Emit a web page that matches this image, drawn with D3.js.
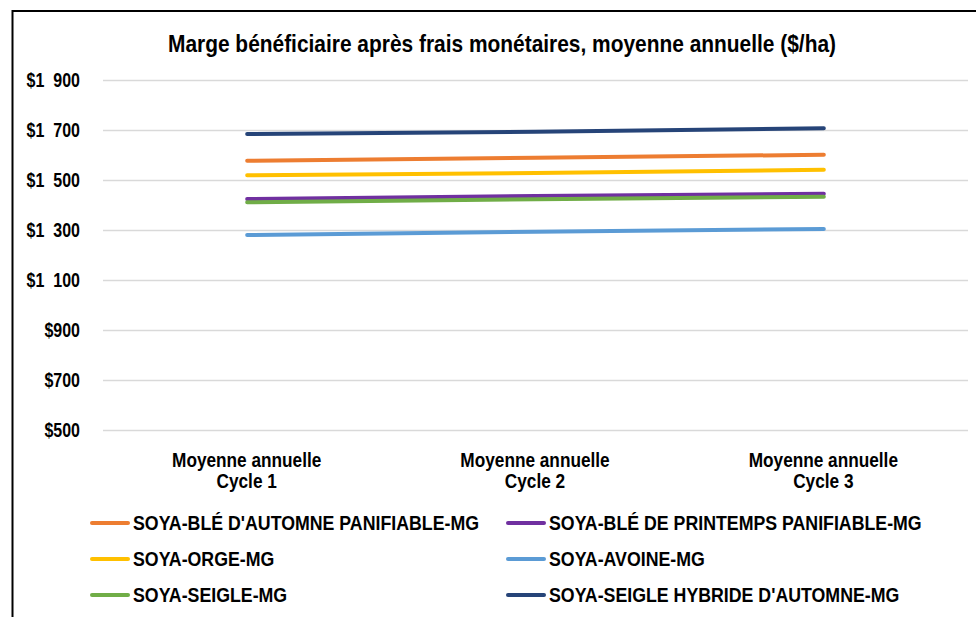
<!DOCTYPE html>
<html>
<head>
<meta charset="utf-8">
<script src="https://cdn.jsdelivr.net/npm/d3@7"></script>
<style>
  body { margin: 0; background: #fff; }
  text { font-family: "Liberation Sans", Arial, sans-serif; font-weight: bold; fill: #000; }
</style>
</head>
<body>
<div id="chart"></div>
<script>
// data
var cycles = ["Cycle 1", "Cycle 2", "Cycle 3"];
var seriesNames = [
  "SOYA-BLÉ D'AUTOMNE PANIFIABLE-MG",
  "SOYA-BLÉ DE PRINTEMPS PANIFIABLE-MG",
  "SOYA-ORGE-MG",
  "SOYA-AVOINE-MG",
  "SOYA-SEIGLE-MG",
  "SOYA-SEIGLE HYBRIDE D'AUTOMNE-MG"
];
var bleAutomne   = [1577, 1589, 1601];
var blePrintemps = [1424, 1436, 1445];
var orge         = [1519, 1528, 1541];
var avoine       = [1280, 1293, 1304];
var seigle       = [1411, 1423, 1433];
var seigleHybride = [1684, 1693, 1707];
var yTicks = [500, 700, 900, 1100, 1300, 1500, 1700, 1900];

var colors = ["#ED7D31", "#7030A0", "#FFC000", "#5B9BD5", "#70AD47", "#264478"];
var allValues = [bleAutomne, blePrintemps, orge, avoine, seigle, seigleHybride];

var series = seriesNames.map(function(name, i) {
  return { name: name, color: colors[i], values: allValues[i] };
});

// the original text is tall and narrow: squeeze it horizontally
function squeeze(sel, k) {
  sel.each(function() {
    var w = this.getComputedTextLength();
    d3.select(this)
      .attr("textLength", w * k)
      .attr("lengthAdjust", "spacingAndGlyphs");
  });
}

// dimensions
var W = 976, H = 617;
var margin = {top: 80, right: 8, bottom: 187, left: 103},
    width = W - margin.left - margin.right,
    height = H - margin.top - margin.bottom;

var svgRoot = d3.select("#chart")
  .append("svg")
    .attr("width", W)
    .attr("height", H);

// outer frame (runs off the right/bottom edge)
svgRoot.append("rect")
  .attr("x", 12.5).attr("y", 11)
  .attr("width", 980).attr("height", 640)
  .attr("fill", "none")
  .attr("stroke", "#000")
  .attr("stroke-width", 2);

// title
var title = svgRoot.append("text")
  .attr("x", 502)
  .attr("y", 52)
  .attr("text-anchor", "middle")
  .style("font-size", "24px")
  .text("Marge bénéficiaire après frais monétaires, moyenne annuelle ($/ha)");
title.attr("textLength", 668).attr("lengthAdjust", "spacingAndGlyphs");

var svg = svgRoot.append("g")
  .attr("transform", "translate(" + margin.left + "," + margin.top + ")");

var x = d3.scalePoint()
  .domain(cycles)
  .range([0, width])
  .padding(0.5);

var y = d3.scaleLinear()
  .domain([500, 1900])
  .range([height, 0]);

function fmt(v) {
  if (v >= 1000) {
    var s = String(v);
    return "$" + s.slice(0, s.length - 3) + "\u00a0\u00a0" + s.slice(-3);
  }
  return "$" + v;
}

// Y axis with gridlines
var yAxis = svg.append("g")
  .call(d3.axisLeft(y).tickValues(yTicks).tickSize(-width).tickFormat(fmt));
yAxis.select(".domain").remove();
yAxis.selectAll(".tick line")
  .attr("stroke", "#d9d9d9")
  .attr("stroke-width", 1.5);
yAxis.selectAll(".tick text")
  .attr("x", -23)
  .attr("dy", "0.33em")
  .style("font-size", "20px")
  .style("font-family", "'Liberation Sans', Arial, sans-serif")
  .style("font-weight", "bold")
  .call(squeeze, 0.8);

// X axis labels (two lines)
var xAxis = svg.append("g")
  .attr("transform", "translate(0," + height + ")")
  .call(d3.axisBottom(x).tickSize(0).tickFormat(""));
xAxis.select(".domain").remove();
xAxis.selectAll(".tick").each(function(d) {
  var g = d3.select(this);
  g.append("text")
    .attr("x", -1).attr("y", 37)
    .attr("text-anchor", "middle")
    .style("font-size", "21px")
    .text("Moyenne annuelle")
    .call(squeeze, 0.82);
  g.append("text")
    .attr("x", -1).attr("y", 58)
    .attr("text-anchor", "middle")
    .style("font-size", "21px")
    .text(d)
    .call(squeeze, 0.82);
});

// lines
var line = d3.line()
  .x(function(d, i) { return x(cycles[i]); })
  .y(function(d) { return y(d); });

svg.selectAll(".series")
  .data(series)
  .enter()
  .append("path")
    .attr("class", "series")
    .attr("d", function(d) { return line(d.values); })
    .attr("fill", "none")
    .attr("stroke", function(d) { return d.color; })
    .attr("stroke-width", 4)
    .attr("stroke-linecap", "round");

// legend
var legend = svgRoot.append("g");
var item = legend.selectAll(".item")
  .data(series)
  .enter()
  .append("g")
    .attr("class", "item")
    .attr("transform", function(d, i) {
      var col = i % 2, row = Math.floor(i / 2);
      return "translate(" + (col === 0 ? 90 : 506) + "," + (523 + row * 36) + ")";
    });
item.append("line")
  .attr("x1", 2).attr("x2", 38)
  .attr("stroke", function(d) { return d.color; })
  .attr("stroke-width", 4)
  .attr("stroke-linecap", "round");
item.append("text")
  .attr("x", 43)
  .attr("dy", "0.36em")
  .style("font-size", "19.5px")
  .text(function(d) { return d.name; })
  .call(squeeze, 0.91);
</script>
</body>
</html>
